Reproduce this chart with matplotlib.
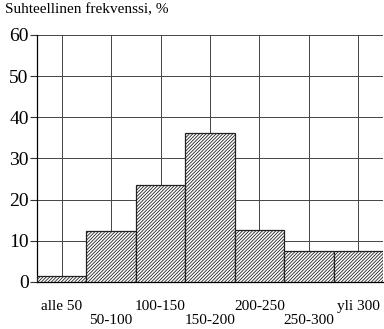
import matplotlib
matplotlib.use("Agg")
import matplotlib.pyplot as plt

plt.rcParams["font.family"] = ["Liberation Serif", "DejaVu Serif"]
plt.rcParams["hatch.linewidth"] = 0.6

categories = ["alle 50", "50-100", "100-150", "150-200", "200-250", "250-300", "yli 300"]
values = [1.5, 12.4, 23.5, 36.2, 12.6, 7.5, 7.5]

fig = plt.figure(figsize=(3.84, 3.29), dpi=100)
ax = fig.add_axes([0.0964, 0.143, 0.901, 0.751])

x = list(range(len(categories)))
ax.bar(x, values, width=1.0, color="white", edgecolor="#222222", lw=0.9,
       hatch="/" * 10, zorder=3)

ax.set_xlim(-0.5, 6.5)
ax.set_ylim(0, 60)
ax.set_yticks([0, 10, 20, 30, 40, 50, 60])
ax.set_xticks(x)
ax.set_xticklabels([c if i % 2 == 0 else "\n" + c for i, c in enumerate(categories)],
                   fontsize=11, linespacing=1.1)
ax.tick_params(axis="x", length=0, pad=13)
ax.tick_params(axis="y", length=5, width=0.8, labelsize=14, pad=1, color="#333333")
ax.grid(True, color="#444444", lw=0.7, zorder=0)
for s in ["top", "right"]:
    ax.spines[s].set_visible(False)
ax.spines["left"].set_linewidth(0.9)
ax.spines["bottom"].set_linewidth(0.9)

fig.text(0.013, 0.99, "Suhteellinen frekvenssi, %", fontsize=11, ha="left", va="top")

fig.savefig("out.png", dpi=100, facecolor="white")
